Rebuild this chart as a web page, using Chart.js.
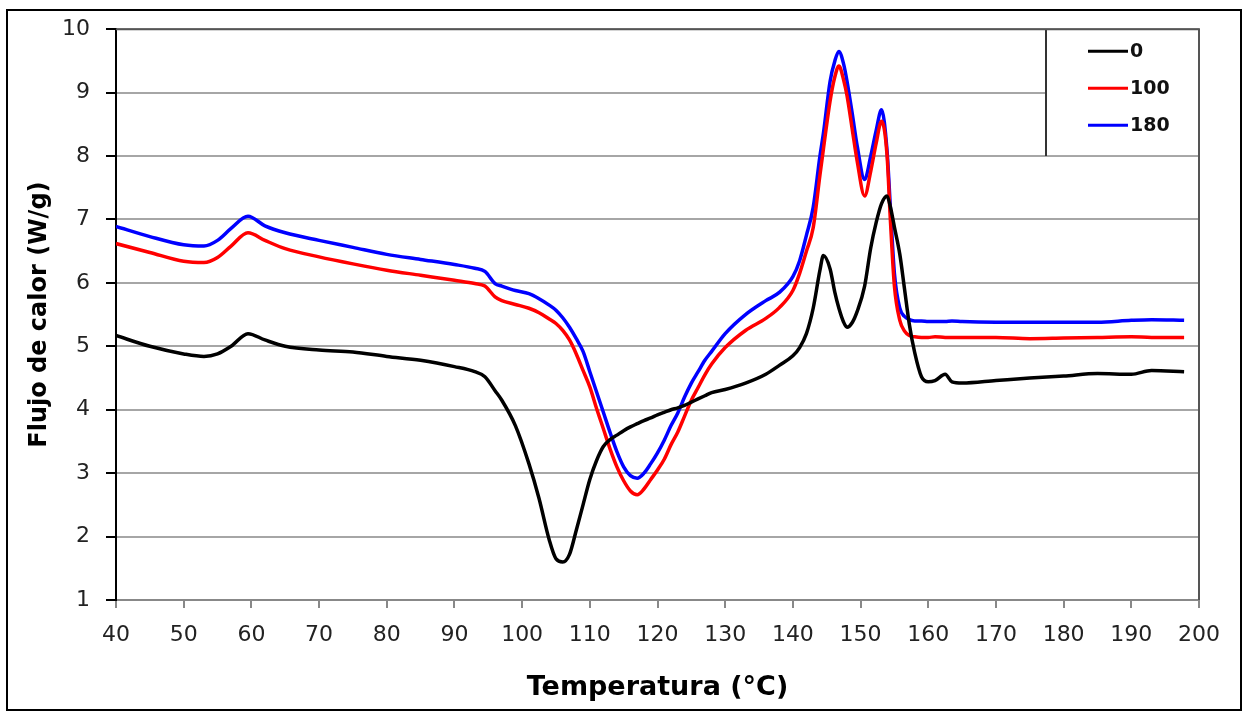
<!DOCTYPE html>
<html>
<head>
<meta charset="utf-8">
<script src="https://cdn.jsdelivr.net/npm/chart.js@4.4.1/dist/chart.umd.min.js"></script>
<style>
  body { margin: 0; background: #fff; }
  #dscChart { display: block; }
</style>
</head>
<body>
<canvas id="dscChart" width="1244" height="713"></canvas>
<script>
// Temperature (°C) shared by the three curves
let temps = [40, 45, 50, 53, 55, 57, 59.5, 62, 65, 70, 75, 80, 85, 90, 93, 94.5, 96, 97, 99, 101,
    102.5, 104, 105, 106, 107, 108, 109, 110, 111, 112, 113, 114, 115, 116, 117, 118, 119, 120, 121, 122,
    123, 124, 125, 126, 127, 128, 130, 133, 136, 138, 140, 141, 142, 143, 144, 144.5, 145.5, 146.2, 146.8, 147.5,
    148, 148.8, 149.5, 150.6, 151.5, 152.3, 153.1, 153.9, 154.4, 155, 155.8, 156.5, 157.2, 158, 159, 160,
    161, 162.5, 163.5, 165, 170, 175, 180, 185, 190, 193, 197.8];

// Heat flow (W/g) for each sample
let flow0 = [5.17, 5.0, 4.88, 4.84, 4.88, 5.0, 5.2, 5.1, 5.0, 4.94, 4.91, 4.84, 4.78, 4.68, 4.6, 4.52, 4.3, 4.15, 3.75, 3.15,
    2.6, 1.95, 1.65, 1.6, 1.72, 2.1, 2.5, 2.9, 3.2, 3.42, 3.53, 3.6, 3.67, 3.73, 3.78, 3.83, 3.87, 3.92, 3.96, 4.0,
    4.03, 4.07, 4.12, 4.17, 4.22, 4.27, 4.32, 4.42, 4.56, 4.7, 4.85, 4.98, 5.2, 5.6, 6.2, 6.43, 6.22, 5.85, 5.6, 5.38,
    5.3, 5.38, 5.55, 5.95, 6.55, 6.95, 7.25, 7.37, 7.2, 6.88, 6.45, 5.9, 5.35, 4.9, 4.52, 4.44,
    4.46, 4.56, 4.44, 4.42, 4.46, 4.5, 4.53, 4.57, 4.56, 4.62, 4.6];

let flow100 = [6.62, 6.48, 6.34, 6.32, 6.4, 6.58, 6.79, 6.67, 6.54, 6.41, 6.3, 6.2, 6.12, 6.04, 5.99, 5.95, 5.78, 5.72, 5.66, 5.6,
    5.53, 5.43, 5.36, 5.25, 5.1, 4.88, 4.62, 4.36, 4.02, 3.7, 3.38, 3.1, 2.88, 2.72, 2.66, 2.75, 2.9, 3.05, 3.22, 3.45,
    3.65, 3.9, 4.15, 4.35, 4.55, 4.72, 4.98, 5.25, 5.44, 5.61, 5.88, 6.15, 6.5, 6.87, 7.7, 8.1, 8.87, 9.25, 9.42, 9.2,
    8.95, 8.4, 7.92, 7.37, 7.76, 8.2, 8.55, 8.03, 7.0, 5.95, 5.41, 5.24, 5.17, 5.15, 5.14, 5.14,
    5.15, 5.14, 5.14, 5.14, 5.14, 5.12, 5.13, 5.14, 5.15, 5.14, 5.14];

let flow180 = [6.89, 6.73, 6.6, 6.58, 6.67, 6.86, 7.05, 6.9, 6.79, 6.67, 6.56, 6.45, 6.37, 6.29, 6.23, 6.18, 5.99, 5.95, 5.88, 5.83,
    5.75, 5.65, 5.57, 5.45, 5.3, 5.12, 4.92, 4.6, 4.28, 3.96, 3.64, 3.34, 3.1, 2.96, 2.92, 3.0, 3.15, 3.32, 3.52, 3.75,
    3.95, 4.2, 4.42, 4.6, 4.78, 4.92, 5.2, 5.5, 5.72, 5.85, 6.1, 6.35, 6.75, 7.19, 8.0, 8.35, 9.18, 9.5, 9.65, 9.45,
    9.18, 8.65, 8.16, 7.63, 8.0, 8.4, 8.73, 8.1, 7.2, 6.15, 5.6, 5.47, 5.42, 5.4, 5.4, 5.39,
    5.39, 5.39, 5.4, 5.39, 5.38, 5.38, 5.38, 5.38, 5.41, 5.42, 5.41];

let seriesNames = ['0', '100', '180'];
let seriesColors = ['#000000', '#ff0000', '#0000ff'];

let xMin = 40, xMax = 200, xStep = 10;
let yMin = 1, yMax = 10, yStep = 1;

function toPoints(values) {
    return values.map((v, i) => ({ x: temps[i], y: v }));
}

// white page + outer frame, plot borders and the boxed legend
const framePlugin = {
    id: 'framePlugin',
    beforeDraw(chart) {
        const ctx = chart.ctx;
        ctx.save();
        ctx.fillStyle = '#fff';
        ctx.fillRect(0, 0, chart.width, chart.height);
        ctx.strokeStyle = '#000';
        ctx.lineWidth = 2;
        ctx.strokeRect(7, 10, 1234, 700);
        ctx.restore();
    },
    afterDatasetsDraw(chart) {
        const ctx = chart.ctx;
        const area = chart.chartArea;
        const yScale = chart.scales.y;
        ctx.save();
        // legend box
        const boxLeft = area.right - 153;
        const boxBottom = yScale.getPixelForValue(8);
        ctx.fillStyle = '#fff';
        ctx.fillRect(boxLeft, area.top, area.right - boxLeft, boxBottom - area.top - 1);
        ctx.strokeStyle = '#333';
        ctx.lineWidth = 2;
        ctx.beginPath();
        ctx.moveTo(boxLeft, area.top);
        ctx.lineTo(boxLeft, boxBottom);
        ctx.stroke();
        chart.data.datasets.forEach((ds, i) => {
            const y = area.top + 22 + i * 37;
            ctx.strokeStyle = ds.borderColor;
            ctx.lineWidth = 3;
            ctx.beginPath();
            ctx.moveTo(boxLeft + 42, y);
            ctx.lineTo(boxLeft + 82, y);
            ctx.stroke();
            ctx.fillStyle = '#111';
            ctx.font = 'bold 19px "DejaVu Sans"';
            ctx.textBaseline = 'middle';
            ctx.fillText(ds.label, boxLeft + 84, y + 1);
        });
        // top and right borders of the plot
        ctx.strokeStyle = '#555';
        ctx.lineWidth = 2;
        ctx.beginPath();
        ctx.moveTo(area.left, area.top);
        ctx.lineTo(area.right, area.top);
        ctx.lineTo(area.right, area.bottom);
        ctx.stroke();
        ctx.restore();
    }
};

const ctx = document.getElementById('dscChart').getContext('2d');
let myChart = new Chart(ctx, {
    type: 'line',
    data: {
        datasets: [flow0, flow100, flow180].map((vals, i) => ({
            label: seriesNames[i],
            data: toPoints(vals),
            borderColor: seriesColors[i],
            borderWidth: 3.5,
            pointRadius: 0,
            fill: false,
            cubicInterpolationMode: 'monotone'
        }))
    },
    options: {
        responsive: false,
        animation: false,
        layout: { padding: { top: 28, right: 45, bottom: 0, left: 0 } },
        plugins: {
            legend: { display: false },
            tooltip: { enabled: false }
        },
        scales: {
            x: {
                type: 'linear',
                min: xMin,
                max: xMax,
                afterFit: axis => { axis.height = 113; },
                ticks: {
                    stepSize: xStep,
                    padding: 14,
                    color: '#222',
                    font: { family: 'DejaVu Sans', size: 22 }
                },
                grid: {
                    drawOnChartArea: false,
                    tickLength: 8,
                    tickColor: '#888',
                    lineWidth: 2
                },
                border: { color: '#888', width: 2 },
                title: {
                    display: true,
                    text: 'Temperatura (°C)',
                    color: '#000',
                    font: { family: 'DejaVu Sans', size: 27, weight: 'bold' },
                    padding: { top: 0, bottom: 9 }
                }
            },
            y: {
                min: yMin,
                max: yMax,
                afterFit: axis => { axis.width = 116; },
                ticks: {
                    stepSize: yStep,
                    padding: 16,
                    color: '#222',
                    font: { family: 'DejaVu Sans', size: 22 }
                },
                grid: {
                    color: '#a6a6a6',
                    lineWidth: 2,
                    tickLength: 10,
                    tickColor: '#000'
                },
                border: { color: '#000', width: 2 },
                title: {
                    display: true,
                    text: 'Flujo de calor (W/g)',
                    color: '#000',
                    font: { family: 'DejaVu Sans', size: 24, weight: 'bold' },
                    padding: { top: 25, bottom: 0 }
                }
            }
        }
    },
    plugins: [framePlugin]
});
</script>
</body>
</html>
